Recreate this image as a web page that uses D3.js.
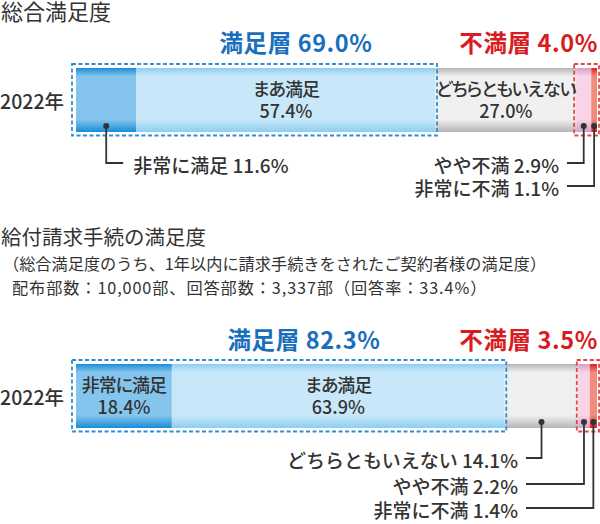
<!DOCTYPE html>
<html lang="ja">
<head>
<meta charset="utf-8">
<script src="https://cdn.jsdelivr.net/npm/d3@7"></script>
<style>
  body { margin: 0; background: #fff; }
  svg { display: block; font-family: "Noto Sans CJK JP", "Noto Sans", sans-serif; }
  .palt { font-feature-settings: "palt"; }
</style>
</head>
<body>
<svg id="chart" width="600" height="524"></svg>
<script>
// data
const categories = ["非常に満足", "まあ満足", "どちらともいえない", "やや不満", "非常に不満"];
const years = ["2022年"];
const groupNames = ["満足層", "不満層"];
const overallValues = [11.6, 57.4, 27.0, 2.9, 1.1];
const overallGroups = [69.0, 4.0];
const claimValues = [18.4, 63.9, 14.1, 2.2, 1.4];
const claimGroups = [82.3, 3.5];
const titles = ["総合満足度", "給付請求手続の満足度"];
const notes = ["（総合満足度のうち、1年以内に請求手続きをされたご契約者様の満足度）",
    "配布部数：10,000部、回答部数：3,337部（回答率：33.4%）"];

// edge / middle colour of each segment (tube look)
const edgeColors = ["#1a8dd6", "#8fcdf1", "#b6b6b8", "#d49fc6", "#e2201b"];
const midColors = ["#85c5ed", "#c8e8f9", "#f0f0f1", "#f9d3e6", "#ef8c7a"];

const fmt = v => d3.format(".1f")(v) + "%";

const svg = d3.select("#chart");
const defs = svg.append("defs");
categories.forEach((c, i) => {
    const g = defs.append("linearGradient").attr("id", "grad" + i)
        .attr("x1", 0).attr("y1", 0).attr("x2", 0).attr("y2", 1);
    g.append("stop").attr("offset", 0).attr("stop-color", edgeColors[i]);
    g.append("stop").attr("offset", 0.13).attr("stop-color", midColors[i]);
    g.append("stop").attr("offset", 0.8).attr("stop-color", midColors[i]);
    g.append("stop").attr("offset", 1).attr("stop-color", edgeColors[i]);
});

const x = d3.scaleLinear().domain([0, 100]).range([76, 597]);

// titles
svg.append("text").attr("x", 1).attr("y", 20).attr("font-size", 22).attr("fill", "#333").text(titles[0]);
svg.append("text").attr("x", 1).attr("y", 245).attr("font-size", 20.5).attr("fill", "#333").text(titles[1]);
svg.selectAll(".note").data(notes).join("text")
    .attr("class", "note")
    .attr("x", (d, i) => i === 0 ? 3 : 12)
    .attr("y", (d, i) => 263 + i * 24)
    .attr("dominant-baseline", "central")
    .attr("font-size", 16.2).attr("fill", "#333")
    .attr("letter-spacing", (d, i) => i === 0 ? 0 : 0.9)
    .text(d => d);

const panels = [
    {values: overallValues, groups: overallGroups, top: 68, headerY: 52, headerX: 296,
        inside: [1, 2], calloutEnd: 559,
        callouts: [{i: 0, side: "right", y: 163}, {i: 3, side: "left", y: 163}, {i: 4, side: "left", y: 186}]},
    {values: claimValues, groups: claimGroups, top: 364, headerY: 349, headerX: 304,
        inside: [0, 1], calloutEnd: 518,
        callouts: [{i: 2, side: "left", y: 458}, {i: 3, side: "left", y: 484}, {i: 4, side: "left", y: 508}]}
];

panels.forEach(p => {
    const y = d3.scaleBand().domain(years).range([p.top, p.top + 64]);
    const g = svg.append("g");
    const bottom = y(years[0]) + y.bandwidth();

    let acc = 0;
    const segs = p.values.map((v, i) => {
        const s = {cat: categories[i], value: v, i: i, x0: acc, x1: acc + v};
        acc += v;
        return s;
    });

    // year label
    g.append("text").attr("x", 64).attr("y", y(years[0]) + y.bandwidth() / 2)
        .attr("text-anchor", "end").attr("dominant-baseline", "central")
        .attr("font-size", 19.5).attr("font-weight", 500).attr("fill", "#333").text(years[0]);

    // bar segments
    g.selectAll("rect.seg").data(segs).join("rect")
        .attr("class", "seg")
        .attr("x", d => x(d.x0))
        .attr("width", d => x(d.x1) - x(d.x0))
        .attr("y", y(years[0]))
        .attr("height", y.bandwidth())
        .attr("fill", d => "url(#grad" + d.i + ")");

    // group boxes
    const satEnd = p.groups[0];
    const disStart = 100 - p.groups[1];
    g.append("rect")
        .attr("x", x(0) - 4).attr("y", y(years[0]) - 4)
        .attr("width", x(satEnd) - x(0) + 5.5).attr("height", y.bandwidth() + 7.5)
        .attr("fill", "none").attr("stroke", "#2f8fd6").attr("stroke-width", 1.8)
        .attr("stroke-dasharray", "4,2.5");
    g.append("rect")
        .attr("x", x(disStart) - 2).attr("y", y(years[0]) - 4)
        .attr("width", x(100) - x(disStart) + 4).attr("height", y.bandwidth() + 7.5)
        .attr("fill", "none").attr("stroke", "#e5444a").attr("stroke-width", 1.8)
        .attr("stroke-dasharray", "4,2.5");

    // group headers
    g.append("text").attr("x", p.headerX).attr("y", p.headerY)
        .attr("class", "palt")
        .attr("text-anchor", "middle").attr("font-size", 23.5).attr("font-weight", "bold")
        .attr("letter-spacing", 0.6).attr("fill", "#1a6fbd")
        .text(groupNames[0] + " " + fmt(p.groups[0]));
    g.append("text").attr("x", 598).attr("y", p.headerY)
        .attr("class", "palt")
        .attr("text-anchor", "end").attr("font-size", 23.5).attr("font-weight", "bold")
        .attr("letter-spacing", 0.6).attr("fill", "#d71c22")
        .text(groupNames[1] + " " + fmt(p.groups[1]));

    // inside labels (two lines in one text)
    const mid = y(years[0]) + y.bandwidth() / 2;
    const ins = g.selectAll("text.inside").data(segs.filter(s => p.inside.includes(s.i))).join("text")
        .attr("class", "inside palt")
        .attr("text-anchor", "middle")
        .attr("font-size", 18).attr("font-weight", 500).attr("fill", "#333");
    ins.append("tspan")
        .attr("x", d => (x(d.x0) + x(d.x1)) / 2).attr("y", mid - 4)
        .attr("letter-spacing", -1)
        .text(d => d.cat);
    ins.append("tspan")
        .attr("x", d => (x(d.x0) + x(d.x1)) / 2).attr("y", mid + 18)
        .text(d => fmt(d.value));

    // callouts
    p.callouts.forEach(c => {
        const s = segs[c.i];
        const cx = (x(s.x0) + x(s.x1)) / 2;
        const cy = bottom - 6;
        const lineEnd = c.side === "right" ? cx + 17 : p.calloutEnd + 8;
        g.append("path")
            .attr("d", d3.line()([[cx, cy], [cx, c.y], [lineEnd, c.y]]))
            .attr("fill", "none").attr("stroke", "#333").attr("stroke-width", 1.8);
        g.append("circle").attr("cx", cx).attr("cy", cy).attr("r", 3).attr("fill", "#333");
        g.append("text")
            .attr("x", c.side === "right" ? lineEnd + 10 : p.calloutEnd)
            .attr("y", c.y + 1)
            .attr("text-anchor", c.side === "right" ? "start" : "end")
            .attr("dominant-baseline", "central")
            .attr("font-size", 19).attr("font-weight", 500).attr("fill", "#333")
            .text(s.cat + " " + fmt(s.value));
    });
});
</script>
</body>
</html>
